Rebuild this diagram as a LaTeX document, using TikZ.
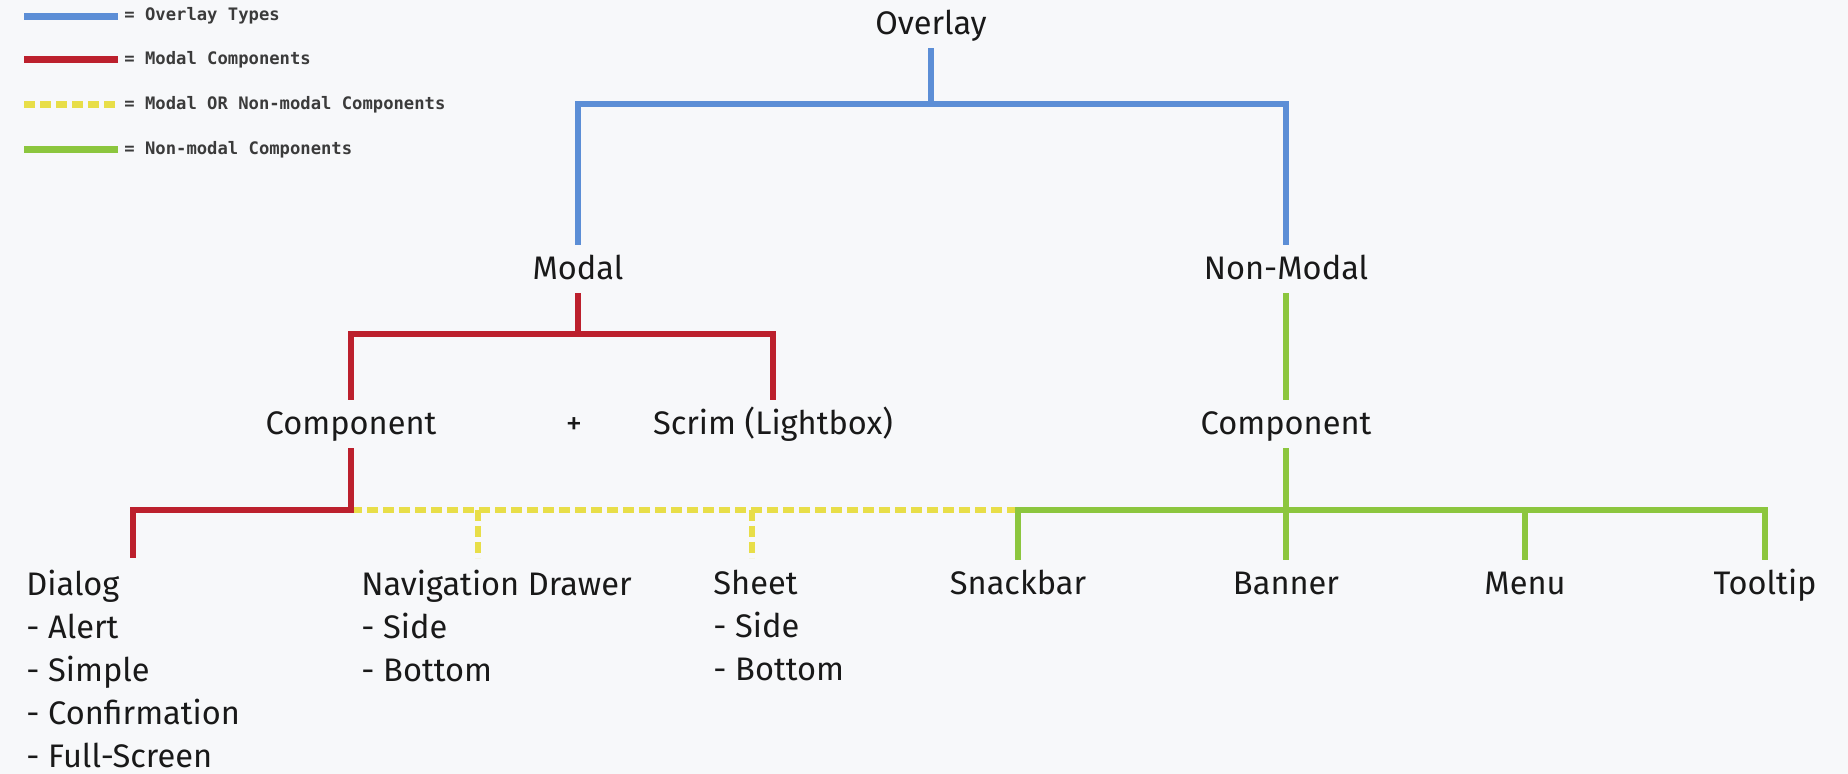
\documentclass[tikz,border=0pt]{standalone}
\usepackage{fontspec}
\setmainfont{Fira Sans}
\newfontfamily\legendfont{DejaVu Sans Mono}
\usetikzlibrary{arrows.meta}

\definecolor{OverlayBlue}{RGB}{92,142,214}
\definecolor{ModalRed}{RGB}{188,32,45}
\definecolor{EitherYellow}{RGB}{232,222,72}
\definecolor{NonModalGreen}{RGB}{140,198,62}
\definecolor{PageGrey}{RGB}{247,248,250}
\definecolor{InkBlack}{RGB}{25,25,25}

\begin{document}
\begin{tikzpicture}[x=0.5pt, y=-0.5pt,
        lbl/.style={font=\fontsize{16.3}{21.5}\selectfont, text=InkBlack, text height=11pt, text depth=0pt, inner xsep=1pt, inner ysep=6.5pt, anchor=base},
        items/.style={font=\fontsize{16.3}{21.5}\selectfont, text=InkBlack, align=left, inner xsep=0pt, inner ysep=6pt, anchor=north west},
        legendtext/.style={font=\legendfont\bfseries\fontsize{8.6}{10}\selectfont, text=InkBlack!85, text height=6pt, text depth=1.5pt, inner sep=0pt, anchor=west},
        bluewire/.style={OverlayBlue, line width=3pt},
        redwire/.style={ModalRed, line width=3pt},
        yellowwire/.style={EitherYellow, line width=3pt, dash pattern=on 5.5pt off 2.5pt},
        greenwire/.style={NonModalGreen, line width=3pt}]

        \fill[PageGrey] (0, 0) rectangle (1848, 774);
        \useasboundingbox (0, 0) rectangle (1848, 774);

        % legend
        \draw[bluewire, line width=3.5pt] (24, 16.5) -- (118, 16.5);
        \node (legblue) at (124, 16.5)[legendtext] {= Overlay Types};

        \draw[redwire, line width=3.5pt] (24, 60) -- (118, 60);
        \node (legred) at (124, 60)[legendtext] {= Modal Components};

        \draw[yellowwire, line width=3.5pt] (24, 105) -- (118, 105);
        \node (legyellow) at (124, 105)[legendtext] {= Modal OR Non-modal Components};

        \draw[greenwire, line width=3.5pt] (24, 150) -- (118, 150);
        \node (leggreen) at (124, 150)[legendtext] {= Non-modal Components};

        % top of the tree
        \node (overlay) at (931, 35)[lbl] {Overlay};

        \node (modal) at (578, 280)[lbl] {Modal};

        \node (nonmodal) at (1286, 280)[lbl] {Non-Modal};

        \coordinate (overlayjoint) at (931, 104);

        \draw[bluewire] (overlay.south) -- (overlayjoint);
        \draw[bluewire] (modal.north) |- (overlayjoint) -| (nonmodal.north);

        % modal side
        \node (compleft) at (351, 435)[lbl] {Component};

        \node (plus) at (574, 435)[lbl] {+};

        \node (scrim) at (773, 435)[lbl] {Scrim (Lightbox)};

        \coordinate (modaljoint) at (578, 334);

        \draw[redwire] (modal.south) -- (modaljoint);
        \draw[redwire] (compleft.north) |- (modaljoint) -| (scrim.north);

        % non-modal side
        \node (compright) at (1286, 435)[lbl] {Component};

        \draw[greenwire] (nonmodal.south) -- (compright.north);

        % components
        \node (dialog) at (26, 558)[items] {Dialog\\- Alert\\- Simple\\- Confirmation\\- Full-Screen};

        \node (navdrawer) at (361, 558)[items] {Navigation Drawer\\- Side\\- Bottom};

        \node (sheet) at (713, 558)[items] {Sheet\\- Side\\- Bottom};

        \node (snackbar) at (1018, 595)[lbl] {Snackbar};

        \node (banner) at (1286, 595)[lbl] {Banner};

        \node (menu) at (1525, 595)[lbl] {Menu};

        \node (tooltip) at (1765, 595)[lbl] {Tooltip};

        \coordinate (compjoint) at (351, 510);
        \coordinate (navjoint) at (478, 510);
        \coordinate (sheetjoint) at (752, 510);

        \draw[yellowwire] (compjoint) -- (snackbar.north |- compjoint);
        \draw[yellowwire] (navjoint) -- (navjoint |- navdrawer.north);
        \draw[yellowwire] (sheetjoint) -- (sheetjoint |- sheet.north);

        \draw[redwire] (compleft.south) -- (compjoint) -| (dialog.north);

        \draw[greenwire] (snackbar.north) -- (snackbar.north |- compjoint) -- (tooltip.north |- compjoint) -- (tooltip.north);
        \draw[greenwire] (compright.south) -- (banner.north);
        \draw[greenwire] (menu.north) -- (menu.north |- compjoint);
    \end{tikzpicture}
\end{document}
